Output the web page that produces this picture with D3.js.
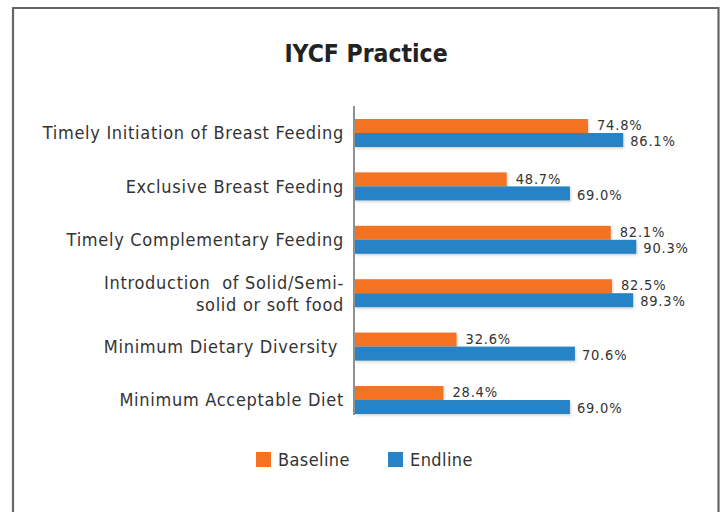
<!DOCTYPE html>
<html><head><meta charset="utf-8">
<script src="https://cdn.jsdelivr.net/npm/d3@7"></script>
<style>
html,body{margin:0;padding:0;background:#fff;}
svg{display:block;}
text{font-family:"DejaVu Sans Condensed","Liberation Sans Narrow","Open Sans",sans-serif;fill:#333;}
</style></head>
<body>
<script>
const categories = [
  ["Timely Initiation of Breast Feeding"],
  ["Exclusive Breast Feeding"],
  ["Timely Complementary Feeding"],
  ["Introduction  of Solid/Semi-", "solid or soft food"],
  ["Minimum Dietary Diversity "],
  ["Minimum Acceptable Diet"]
];
const seriesNames = ["Baseline", "Endline"];
const baseline = [74.8, 48.7, 82.1, 82.5, 32.6, 28.4];
const endline = [86.1, 69.0, 90.3, 89.3, 70.6, 69.0];
const colors = ["#F37321", "#2683C6"];

const W = 722, H = 512;
const svg = d3.select("body").append("svg").attr("width", W).attr("height", H);

// frame
svg.append("path").attr("d", `M13,512 V8 H718.5 V512`).attr("fill","none")
  .attr("stroke","#666").attr("stroke-width",2.2);

svg.append("text").attr("x", 366).attr("y", 62).attr("text-anchor","middle")
  .style("font-size","24.5px").style("font-weight","bold").style("fill","#222")
  .text("IYCF Practice");

const x = d3.scaleLinear().domain([0,100]).range([355, 666.5]);
const y = d3.scaleBand().domain(d3.range(categories.length)).range([106.3, 426.7]).padding(0);
const barH = 14;

const defs = svg.append("defs");
const f = defs.append("filter").attr("id","sh").attr("x","-5%").attr("y","-30%").attr("width","110%").attr("height","180%");
f.append("feDropShadow").attr("dx",1).attr("dy",1.5).attr("stdDeviation",1.2).attr("flood-color","#000").attr("flood-opacity",0.18);

const series = [baseline, endline];
series.forEach((vals, s) => {
  const g = svg.append("g");
  g.selectAll("rect").data(vals).join("rect")
    .attr("x", x(0))
    .attr("y", (d,i) => y(i) + y.bandwidth()/2 - barH + s*barH)
    .attr("width", d => x(d) - x(0))
    .attr("height", barH)
    .attr("fill", colors[s])
    .attr("filter","url(#sh)");
  g.selectAll("text").data(vals).join("text")
    .attr("x", d => x(d) + (s===0 ? 9 : 7))
    .attr("y", (d,i) => y(i) + y.bandwidth()/2 - barH/2 + s*barH + (s===0 ? -1 : 1))
    .attr("dy","0.36em")
    .style("font-size","14.5px").style("letter-spacing","0.8px")
    .text(d => d.toFixed(1) + "%");
});

// axis line
svg.append("line").attr("x1",354).attr("x2",354).attr("y1",106).attr("y2",415)
  .attr("stroke","#555").attr("stroke-width",1.3);

// category labels
categories.forEach((lines, i) => {
  const cy = y(i) + y.bandwidth()/2;
  const t = svg.append("text").attr("text-anchor","end")
    .style("font-size","18px").style("letter-spacing","0.7px");
  lines.forEach((ln, k) => {
    t.append("tspan").attr("x", 344).attr("y", cy + (k - (lines.length-1)/2) * 22)
      .attr("dy","0.36em").attr("xml:space","preserve").style("white-space","pre").text(ln);
  });
});

// legend
const legX = [256, 388];
seriesNames.forEach((n, s) => {
  svg.append("rect").attr("x", legX[s]).attr("y", 452).attr("width",15).attr("height",15).attr("fill",colors[s]);
  svg.append("text").attr("x", legX[s] + 22).attr("y", 460).attr("dy","0.36em")
    .style("font-size","18px").style("letter-spacing","0.4px").text(n);
});
</script>
</body></html>
